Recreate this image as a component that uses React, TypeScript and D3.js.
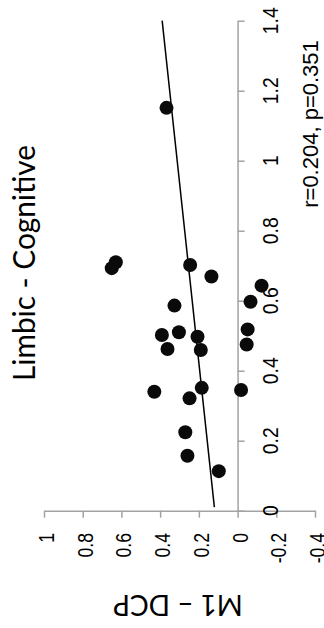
import React, { useEffect, useRef } from 'react';
import * as d3 from 'd3';

const W = 324;
const H = 628;

// x: Limbic - Cognitive, y: M1 – DCP (chart is shown turned a quarter turn)
const xVals = [1.151, 0.702, 0.669, 0.643, 0.597, 0.586, 0.693, 0.710, 0.518, 0.475, 0.502, 0.510, 0.497, 0.462, 0.459, 0.351, 0.340, 0.321, 0.345, 0.224, 0.157, 0.113];
const yVals = [0.367, 0.245, 0.135, -0.124, -0.067, 0.326, 0.650, 0.629, -0.052, -0.047, 0.391, 0.303, 0.207, 0.362, 0.190, 0.185, 0.430, 0.248, -0.018, 0.270, 0.259, 0.097];

const xTicks = [0, 0.2, 0.4, 0.6, 0.8, 1, 1.2, 1.4];
const yTicks = [1, 0.8, 0.6, 0.4, 0.2, 0, -0.2, -0.4];

const trendSlope = 0.194;
const trendIntercept = 0.118;
const trendRange = [0.01, 1.4];

const title = 'Limbic - Cognitive';
const yTitle = 'M1 – DCP';
const statText = 'r=0.204, p=0.351';

const fmt = (d) => String(+(+d).toFixed(1));

function App() {
  const svgRef = useRef();

  useEffect(() => {
    const svg = d3.select(svgRef.current);
    svg.selectAll('*').remove();

    // data x runs up the page, data y runs right to left
    const xScale = d3.scaleLinear().domain([0, 1.4]).range([510.7, 20.7]);
    const yScale = d3.scaleLinear().domain([1, -0.4]).range([44, 315]);
    const axisColor = '#a3a3a3';

    const bottomAxis = svg.append('g')
      .attr('transform', `translate(0, ${xScale(0)})`)
      .call(d3.axisBottom(yScale).tickValues(yTicks).tickSize(7).tickSizeOuter(0).tickFormat(() => ''));
    const sideAxis = svg.append('g')
      .attr('transform', `translate(${yScale(0)}, 0)`)
      .call(d3.axisRight(xScale).tickValues(xTicks).tickSize(7).tickSizeOuter(0).tickFormat(() => ''));
    [bottomAxis, sideAxis].forEach(ax => {
      ax.select('.domain').attr('stroke', axisColor).attr('stroke-width', 1.5);
      ax.selectAll('.tick line').attr('stroke', axisColor).attr('stroke-width', 1.5);
    });

    svg.append('g').selectAll('text').data(yTicks)
      .join('text')
      .attr('transform', d => `translate(${yScale(d) + 10}, 533) rotate(-90) scale(0.8, 1)`)
      .attr('text-anchor', 'end')
      .attr('font-family', 'Liberation Sans, Arial, sans-serif')
      .attr('font-size', 22)
      .attr('fill', '#000')
      .text(fmt);

    svg.append('g').selectAll('text').data(xTicks)
      .join('text')
      .attr('transform', d => `translate(278, ${xScale(d)}) rotate(-90) scale(0.88, 1)`)
      .attr('text-anchor', 'middle')
      .attr('font-family', 'Liberation Sans, Arial, sans-serif')
      .attr('font-size', 22)
      .attr('fill', '#000')
      .text(fmt);

    const line = d3.line().x(d => yScale(trendIntercept + trendSlope * d)).y(d => xScale(d));
    svg.append('path')
      .datum(trendRange)
      .attr('d', line)
      .attr('fill', 'none')
      .attr('stroke', '#000')
      .attr('stroke-width', 1.5);

    svg.append('g').selectAll('circle').data(xVals)
      .join('circle')
      .attr('cx', (d, i) => yScale(yVals[i]))
      .attr('cy', d => xScale(d))
      .attr('r', 7)
      .attr('fill', '#0a0a0a');

    svg.append('text')
      .attr('transform', 'translate(318, 124) rotate(-90)')
      .attr('text-anchor', 'middle')
      .attr('font-family', 'Liberation Sans, Arial, sans-serif')
      .attr('font-size', 22)
      .attr('fill', '#000')
      .text(statText);

    svg.append('text')
      .attr('transform', 'translate(35, 263) rotate(-90)')
      .attr('text-anchor', 'middle')
      .attr('font-family', 'Lato, sans-serif')
      .attr('font-size', 30)
      .attr('textLength', 236)
      .attr('lengthAdjust', 'spacingAndGlyphs')
      .attr('fill', '#000')
      .text(title);

    svg.append('text')
      .attr('transform', 'translate(178, 595) rotate(180)')
      .attr('text-anchor', 'middle')
      .attr('font-family', 'Lato, sans-serif')
      .attr('font-size', 28)
      .attr('fill', '#000')
      .text(yTitle);
  }, []);

  return (
    <svg
      ref={svgRef}
      width={W}
      height={H}
      viewBox={`0 0 ${W} ${H}`}
      style={{ position: 'absolute', left: 0, top: 0, background: '#fff', display: 'block' }}
    />
  );
}

export default App;
